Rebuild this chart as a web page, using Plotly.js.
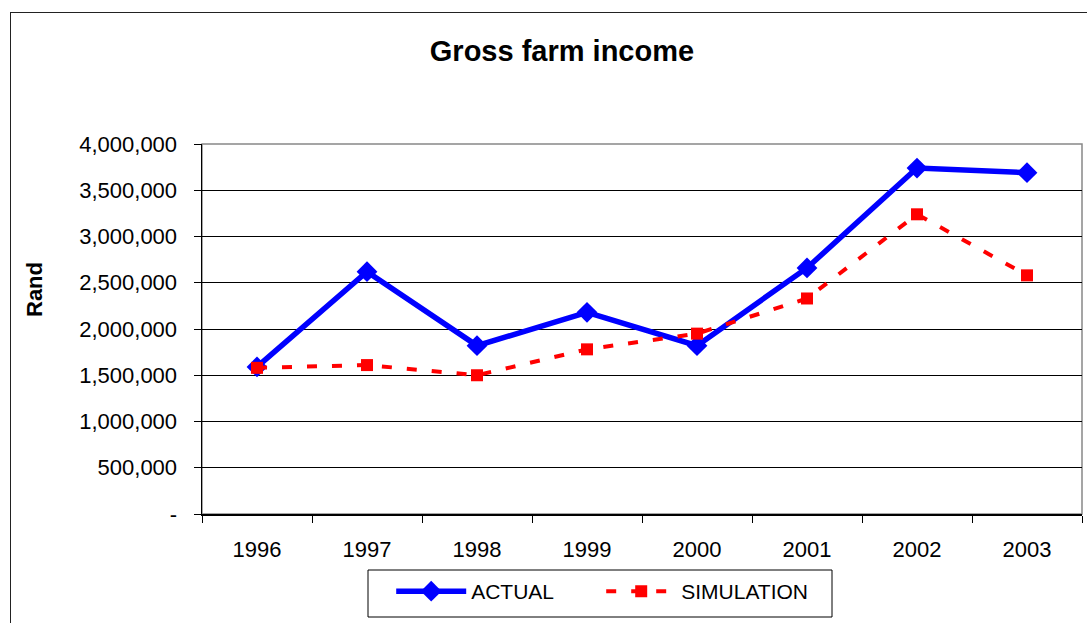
<!DOCTYPE html>
<html>
<head>
<meta charset="utf-8">
<script src="https://cdn.plot.ly/plotly-3.0.1.min.js"></script>
<style>
  html, body { margin: 0; padding: 0; background: #fff; overflow: hidden; }
  #wrap { position: relative; width: 1087px; height: 623px; overflow: hidden; }
  #chart { position: absolute; left: 0; top: 0; width: 1087px; height: 623px; }
  #frame { position: absolute; left: 10px; top: 12px; width: 1200px; height: 800px;
           border: 1.5px solid #222; pointer-events: none; box-sizing: border-box; }
</style>
</head>
<body>
<div id="wrap">
  <div id="chart"></div>
  <div id="frame"></div>
</div>
<script>
// Years on the category axis
const years = ['1996', '1997', '1998', '1999', '2000', '2001', '2002', '2003'];

// Gross farm income, Rand
const actual = [1590000, 2620000, 1820000, 2180000, 1820000, 2660000, 3740000, 3690000];
const simulation = [1580000, 1610000, 1500000, 1780000, 1950000, 2330000, 3240000, 2580000];

// Value axis ticks; zero is written as a dash
const yTickVals = [0, 500000, 1000000, 1500000, 2000000, 2500000, 3000000, 3500000, 4000000];
const yTickText = ['-', '500,000', '1,000,000', '1,500,000', '2,000,000', '2,500,000',
                   '3,000,000', '3,500,000', '4,000,000'];

const FONT = '"Liberation Sans", Arial, Helvetica, sans-serif';

const traces = [
  {
    x: years, y: actual, name: 'ACTUAL', type: 'scatter', mode: 'lines+markers',
    line: { color: '#0000FF', width: 5.5 },
    marker: { symbol: 'diamond', size: 16, color: '#0000FF' }
  },
  {
    x: years, y: simulation, name: 'SIMULATION', type: 'scatter', mode: 'lines+markers',
    line: { color: '#FF0000', width: 4, dash: '10px,15px' },
    marker: { symbol: 'square', size: 12, color: '#FF0000' }
  }
];

// Plot area spans x 202..1082 and y 144..514 in page pixels
const layout = {
  width: 1087, height: 623,
  margin: { l: 202, r: 5, t: 144, b: 109 },
  paper_bgcolor: '#fff', plot_bgcolor: '#fff',
  font: { family: FONT, color: '#000', size: 21 },
  showlegend: true,
  title: {
    text: '<b>Gross farm income</b>',
    font: { family: FONT, size: 29, color: '#000' },
    xref: 'container', yref: 'container',
    x: 0.517, y: 1 - 51 / 623, xanchor: 'center', yanchor: 'middle'
  },
  xaxis: {
    type: 'category', range: [-0.5, 7.5],
    showline: true, linecolor: '#000', linewidth: 1.5,
    ticks: 'outside', ticklen: 7, tickcolor: '#000', tickwidth: 1,
    tickson: 'boundaries', showgrid: false, zeroline: false,
    tickfont: { family: FONT, size: 22, color: '#000' },
    ticklabelstandoff: 15
  },
  yaxis: {
    range: [0, 4000000], tickvals: yTickVals, ticktext: yTickText,
    showline: true, linecolor: '#000', linewidth: 1.5,
    ticks: 'outside', ticklen: 7, tickcolor: '#000', tickwidth: 1,
    showgrid: true, gridcolor: '#000', gridwidth: 1, zeroline: false,
    tickfont: { family: FONT, size: 22, color: '#000' },
    ticklabelstandoff: 12
  },
  annotations: [{
    text: '<b>Rand</b>', textangle: -90, showarrow: false,
    xref: 'paper', yref: 'paper',
    x: (34 - 202) / 880, y: (514 - 290) / 370, xanchor: 'center', yanchor: 'middle',
    font: { family: FONT, size: 22, color: '#000' }
  }],
  legend: {
    orientation: 'h', x: 0.215, y: -0.154, xanchor: 'left', yanchor: 'top',
    borderwidth: 0, bgcolor: 'rgba(0,0,0,0)',
    font: { family: FONT, size: 21, color: '#000' },
    itemwidth: 70, entrywidth: 125, tracegroupgap: 0
  },
  shapes: [
    {
      type: 'rect', xref: 'paper', yref: 'paper', x0: 0, x1: 1, y0: 0, y1: 1,
      line: { color: '#888', width: 1.5 }, layer: 'below'
    },
    {
      // legend frame
      type: 'rect', xref: 'paper', yref: 'paper',
      x0: (368 - 202) / 880, x1: (832 - 202) / 880,
      y0: (514 - 617) / 370, y1: (514 - 570) / 370,
      line: { color: '#000', width: 1 }, layer: 'below'
    }
  ]
};

Plotly.newPlot('chart', traces, layout, { displayModeBar: false, staticPlot: true });
</script>
</body>
</html>
